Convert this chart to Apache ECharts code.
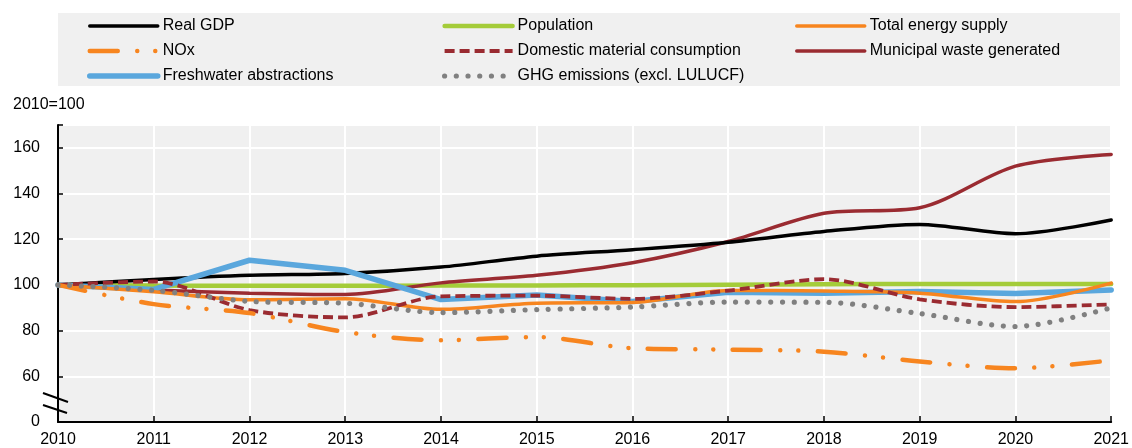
<!DOCTYPE html>
<html>
<head>
<meta charset="utf-8">
<script src="https://cdn.jsdelivr.net/npm/echarts@6/dist/echarts.min.js"></script>
<style>
html,body{margin:0;padding:0;background:#fff;}
#chart{width:1132px;height:448px;}
</style>
</head>
<body>
<div id="chart"></div>
<script>
const years = ['2010','2011','2012','2013','2014','2015','2016','2017','2018','2019','2020','2021'];
const realGDP = [100, 102.4, 104.2, 105.0, 107.8, 112.6, 115.4, 118.7, 123.4, 126.5, 122.4, 128.4];
const population = [100, 99.7, 99.6, 99.6, 99.7, 99.8, 99.9, 100.1, 100.3, 100.4, 100.4, 100.4];
const totalEnergy = [100, 97.0, 93.5, 94.0, 89.3, 92.0, 92.3, 97.6, 97.3, 96.4, 92.7, 100.8];
const nox = [100, 91.6, 87.7, 79.4, 75.8, 77.2, 72.3, 71.7, 70.8, 66.5, 63.5, 67.0];
const dmc = [100, 101.5, 89.0, 85.8, 95.0, 95.3, 93.9, 97.5, 102.5, 93.7, 90.3, 91.5];
const municipalWaste = [100, 97.8, 96.4, 95.8, 100.9, 104.2, 109.7, 119.0, 131.4, 133.8, 152.0, 157.1];
const freshwater = [100, 98.0, 110.8, 106.4, 93.6, 95.6, 92.7, 96.8, 96.4, 97.1, 96.2, 97.8];
const ghg = [100, 97.6, 92.8, 92.0, 87.9, 89.2, 90.3, 92.5, 92.4, 87.5, 81.8, 90.0];
const yTicks = {40: '0', 60: '60', 80: '80', 100: '100', 120: '120', 140: '140', 160: '160'};

const FONT = 'Liberation Sans, Arial, sans-serif';
const ORANGE = '#f7851f', DRED = '#9a2b31', BLUE = '#5aa7dd', GREEN = '#a4cc39', GRAY = '#808080';

const styles = {
  'Real GDP': {color: '#000', width: 3.5, type: 'solid', cap: 'round'},
  'Population': {color: GREEN, width: 4.5, type: 'solid', cap: 'round'},
  'Total energy supply': {color: ORANGE, width: 3.5, type: 'solid', cap: 'round'},
  'NOx': {color: ORANGE, width: 4.5, type: [28, 19.5, 0.01, 18, 0.01, 19.5], cap: 'round'},
  'Domestic material consumption': {color: DRED, width: 3.8, type: [10, 5], cap: 'butt'},
  'Municipal waste generated': {color: DRED, width: 3.5, type: 'solid', cap: 'round'},
  'Freshwater abstractions': {color: BLUE, width: 5.5, type: 'solid', cap: 'round'},
  'GHG emissions (excl. LULUCF)': {color: GRAY, width: 5.2, type: [0.01, 11.7], cap: 'round'}
};

function line(name, data, extra) {
  const s = styles[name];
  return Object.assign({
    name: name, type: 'line', data: data, symbol: 'none', smooth: 0.3,
    lineStyle: Object.assign({}, s),
    itemStyle: {color: s.color},
    emphasis: {disabled: true}
  }, extra || {});
}
function legendItem(name) {
  const s = styles[name];
  return {name: name, itemStyle: {opacity: 0, color: 'rgba(0,0,0,0)', borderWidth: 0},
          lineStyle: {color: s.color, width: s.width, type: s.type, cap: s.cap}};
}

const chart = echarts.init(document.getElementById('chart'), null, {renderer: 'canvas'});
const legendBase = {
  orient: 'vertical', top: 17, padding: 0, itemWidth: 68, itemHeight: 14, itemGap: 7,
  selectedMode: false,
  textStyle: {fontFamily: FONT, fontSize: 16, color: '#000', lineHeight: 18}
};
chart.setOption({
  animation: false,
  textStyle: {fontFamily: FONT},
  title: {text: '2010=100', left: 8, top: 92, textStyle: {fontFamily: FONT, fontSize: 16, fontWeight: 'normal', color: '#000'}},
  graphic: [
    {type: 'rect', left: 58, top: 13, shape: {width: 1062, height: 73}, style: {fill: '#f0f0f0'}, z: -10, silent: true},
    {type: 'line', shape: {x1: 43, y1: 393, x2: 68, y2: 402}, style: {stroke: '#000', lineWidth: 2}, z: 100, silent: true},
    {type: 'line', shape: {x1: 43, y1: 405, x2: 67, y2: 413}, style: {stroke: '#000', lineWidth: 2}, z: 100, silent: true}
  ],
  legend: [
    Object.assign({}, legendBase, {left: 87, data: ['Real GDP', 'NOx', 'Freshwater abstractions'].map(legendItem)}),
    Object.assign({}, legendBase, {left: 442, data: ['Population', 'Domestic material consumption', 'GHG emissions (excl. LULUCF)'].map(legendItem)}),
    Object.assign({}, legendBase, {left: 795, data: ['Total energy supply', 'Municipal waste generated'].map(legendItem)})
  ],
  grid: {left: 58, right: 19, top: 125, bottom: 26, show: true, backgroundColor: '#f0f0f0', borderWidth: 0},
  xAxis: {
    type: 'category', data: years, boundaryGap: false,
    axisLine: {lineStyle: {color: '#000', width: 2}},
    axisTick: {inside: true, length: 6, lineStyle: {color: '#000', width: 1.5}},
    axisLabel: {color: '#000', fontSize: 16, fontFamily: FONT, margin: 10},
    splitLine: {show: true, lineStyle: {color: '#fff', width: 2}}
  },
  yAxis: {
    type: 'value', min: 40, max: 170, interval: 20,
    axisLine: {show: true, lineStyle: {color: '#000', width: 2}},
    axisTick: {show: true, inside: true, length: 5, lineStyle: {color: '#000', width: 1.5}},
    axisLabel: {color: '#000', fontSize: 16, fontFamily: FONT, margin: 18, formatter: v => yTicks[v] !== undefined ? yTicks[v] : ''},
    splitLine: {show: true, lineStyle: {color: '#fff', width: 2}}
  },
  series: [
    line('Population', population),
    line('Municipal waste generated', municipalWaste),
    line('Real GDP', realGDP),
    line('Freshwater abstractions', freshwater, {smooth: false}),
    line('Total energy supply', totalEnergy),
    line('Domestic material consumption', dmc),
    line('NOx', nox),
    line('GHG emissions (excl. LULUCF)', ghg)
  ]
});
</script>
</body>
</html>
